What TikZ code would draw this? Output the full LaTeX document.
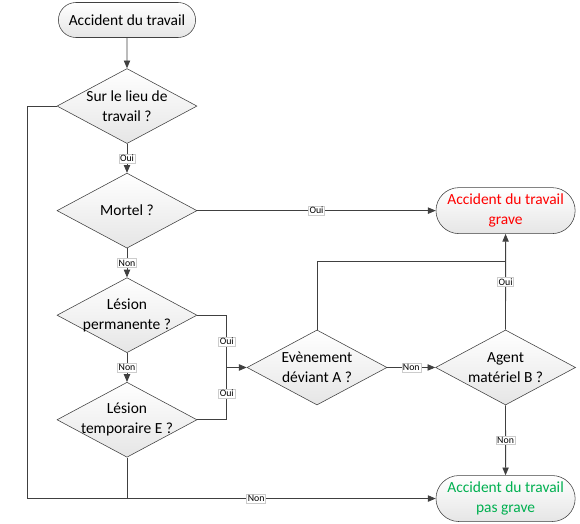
\documentclass[tikz,border=0pt]{standalone}
\usepackage{fontspec}
\setmainfont{Carlito}
\usetikzlibrary{shapes.geometric,shapes.misc,arrows.meta,positioning,calc}
\definecolor{trait}{HTML}{404040}
\definecolor{rouge}{HTML}{FF0000}
\definecolor{vert}{HTML}{00B050}
\newcommand{\txtsize}{\fontsize{11}{14}\selectfont}

\begin{document}
\begin{tikzpicture}[
  term/.style={draw=trait,rounded rectangle,top color=white,bottom color=black!10,minimum width=3.5cm,minimum height=0.875cm,inner sep=1pt,align=center,font=\txtsize},
  dec/.style={draw=trait,diamond,top color=white,bottom color=black!10,minimum width=3.5cm,minimum height=1.875cm,inner sep=0pt,label={[align=center,font=\txtsize]center:#1}},
  arr/.style={-{Triangle[length=5.5pt,width=4.5pt]},line width=0.6pt,color=trait},
  lin/.style={line width=0.6pt,color=trait},
  lbl/.style={fill=white,draw=black!20,line width=0.3pt,inner sep=0.8pt,font=\fontsize{7}{8}\selectfont,text=black},
  node distance=0.725cm]
\useasboundingbox (0,0) rectangle (14.5,-13.075);
\node[term] (start) at (3.175,-0.5) {Accident du travail};
\node[dec={Sur le lieu de\\travail ?},below=0.7625cm of start] (lieu) {};
\node[dec={Mortel ?},below=of lieu] (mortel) {};
\node[dec={Lésion\\permanente ?},below=of mortel] (perm) {};
\node[dec={Lésion\\temporaire E ?},below=of perm] (temp) {};
\node[dec={Evènement\\déviant A ?}] (devA) at ($(perm)!0.5!(temp)+(4.75,0)$) {};
\node[dec={Agent\\matériel B ?},right=1.2cm of devA] (agentB) {};
\node[term,minimum width=3.55cm,minimum height=1.15cm,text=rouge] (grave) at (agentB |- mortel) {Accident du travail\\grave};
\node[term,minimum width=3.55cm,minimum height=1.15cm,text=vert,below=1.75cm of agentB] (pasgrave) {Accident du travail\\pas grave};
\coordinate[left=0.5cm of devA.west] (jonction);
\coordinate[below=0.7cm of grave.south] (retour);
% liaisons
\draw[arr] (start) -- (lieu);
\draw[arr] (lieu) -- node[lbl]{Oui} (mortel);
\draw[arr] (lieu.west) -- ++(-0.725,0) |- node[lbl,pos=0.78]{Non} (pasgrave.west);
\draw[arr] (mortel) -- node[lbl]{Oui} (grave);
\draw[arr] (mortel) -- node[lbl]{Non} (perm);
\draw[arr] (perm) -- node[lbl]{Non} (temp);
\draw[arr] (perm.east) -| node[lbl,pos=0.75]{Oui} (jonction) -- (devA.west);
\draw[lin] (temp.east) -| node[lbl,pos=0.75]{Oui} (jonction);
\draw[lin] (temp.south) -- (temp.south |- pasgrave.west);
\draw[lin] (devA.north) |- (retour);
\draw[arr] (devA) -- node[lbl]{Non} (agentB);
\draw[arr] (agentB) -- node[lbl]{Oui} (grave);
\draw[arr] (agentB) -- node[lbl]{Non} (pasgrave);
\end{tikzpicture}
\end{document}
